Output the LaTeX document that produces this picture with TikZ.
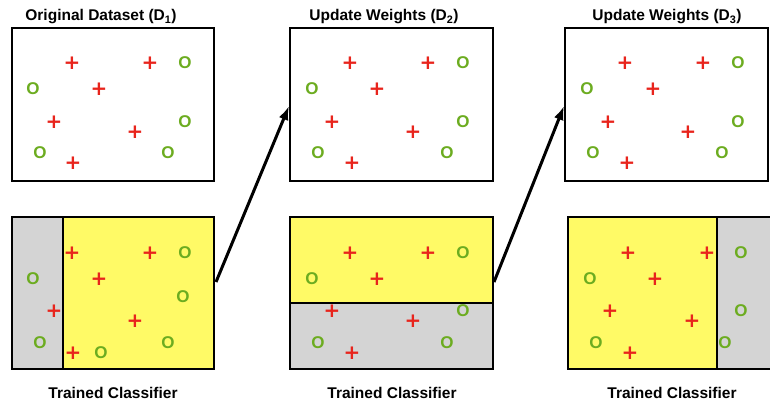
\documentclass[tikz,border=0pt]{standalone}
\usepackage{fontspec}
\setmainfont{Liberation Sans}
\newfontfamily\markfont{DejaVu Sans}
\usetikzlibrary{arrows.meta}
\definecolor{plusred}{RGB}{232,36,28}
\definecolor{ogreen}{RGB}{108,172,32}
\definecolor{hiyellow}{RGB}{255,250,102}
\definecolor{lowgray}{RGB}{212,212,212}
\tikzset{
  panel/.style={draw=black, line width=2.5pt},
  divider/.style={line width=2.5pt},
  title/.style={font=\bfseries\fontsize{15.5}{17}\selectfont, anchor=center},
  pmark/.style={text=plusred, font=\markfont\bfseries\fontsize{20}{20}\selectfont, inner sep=0pt},
  omark/.style={text=ogreen, font=\bfseries\fontsize{17}{17}\selectfont, inner sep=0pt},
  flow/.style={line width=3pt, -{Latex[length=14pt,width=10pt]}},
}
\begin{document}
\begin{tikzpicture}[x=1pt,y=-1pt]
\useasboundingbox (0,0) rectangle (770,402);
\begin{scope}
\clip (0,0) rectangle (770,402);

% ---- titles ----
\node[title] (t1) at (101,17) {Original Dataset (D\textsubscript{1})};
\node[title] (t2) at (384,17) {Update Weights (D\textsubscript{2})};
\node[title] (t3) at (667,17) {Update Weights (D\textsubscript{3})};

% ---- upper data panels ----
\node[panel, minimum width=202pt, minimum height=153pt, inner sep=0pt] (d1) at (113,104.5) {};
\node[panel, minimum width=203pt, minimum height=153pt, inner sep=0pt] (d2) at (391.5,104.5) {};
\node[panel, minimum width=203pt, minimum height=153pt, inner sep=0pt] (d3) at (666.5,104.5) {};

% ---- lower classifier panels ----
% left: gray strip | yellow
\fill[lowgray] (12,217) rectangle (63,369);
\fill[hiyellow] (63,217) rectangle (214,369);
\draw[divider] (63,217) -- (63,369);
\node[panel, minimum width=202pt, minimum height=152pt, inner sep=0pt] (c1) at (113,293) {};
% middle: yellow on top, gray below
\fill[hiyellow] (290,217) rectangle (493,303);
\fill[lowgray] (290,303) rectangle (493,369);
\draw[divider] (290,303) -- (493,303);
\node[panel, minimum width=203pt, minimum height=152pt, inner sep=0pt] (c2) at (391.5,293) {};
% right: yellow | gray strip
\fill[hiyellow] (568,217) rectangle (717,369);
\fill[lowgray] (717,217) rectangle (776,369);
\draw[divider] (717,217) -- (717,369);
\node[panel, minimum width=208pt, minimum height=152pt, inner sep=0pt] (c3) at (672,293) {};

% ---- data points ----
\foreach \x/\y [count=\i] in {72/63,150/63,99/89,54/122,135/132,73/163,
    350/63,428/63,377/89,332/122,413/132,352/163,
    625/63,703/63,653/89,608/122,688/132,627/163,
    72/253,150/253,99/279,54/311,135/321,73/353,
    350/253,428/253,377/279,332/311,413/321,352/353,
    628/253,707/253,655/279,610/311,692/321,630/353}
  \node[pmark] (p\i) at (\x,\y) {+};
\foreach \x/\y [count=\i] in {185/63,33/89,185/122,40/153,168/153,
    463/63,312/89,463/122,318/153,447/153,
    738/63,587/89,738/122,593/153,722/153,
    185/253,33/279,183/297,40/343,101/353,168/343,
    463/253,312/279,463/311,318/343,447/343,
    741/253,590/279,741/311,596/343,725/343}
  \node[omark] (o\i) at (\x,\y) {O};

% ---- captions ----
\node[title] (l1) at (113,393) {Trained Classifier};
\node[title] (l2) at (392,393) {Trained Classifier};
\node[title] (l3) at (672,393) {Trained Classifier};

% ---- flow arrows ----
\coordinate (a1s) at (216,282);
\coordinate (a1e) at (289,106);
\coordinate (a2s) at (494,282);
\coordinate (a2e) at (564,106);
\draw[flow] (a1s) -- (a1e);
\draw[flow] (a2s) -- (a2e);
\end{scope}
\end{tikzpicture}
\end{document}
